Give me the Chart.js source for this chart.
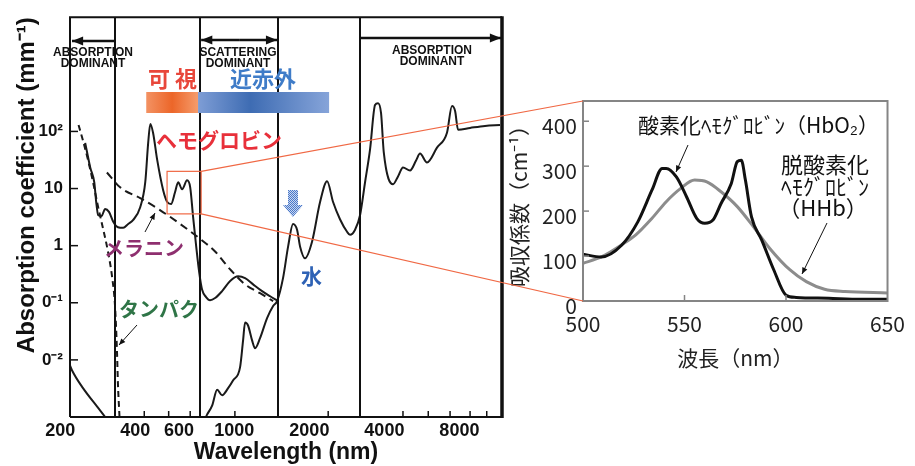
<!DOCTYPE html>
<html>
<head>
<meta charset="utf-8">
<script src="https://cdn.jsdelivr.net/npm/chart.js@4.4.1/dist/chart.umd.min.js"></script>
<style>
  html, body { margin: 0; padding: 0; background: #fff; }
  #wrap { position: relative; width: 915px; height: 466px; }
  #wrap canvas { position: absolute; left: 0; top: 0; }
</style>
</head>
<body>
<div id="wrap">
  <canvas id="spectrum" width="915" height="466"></canvas>
  <canvas id="inset" width="915" height="466"></canvas>
</div>
<script>
// left panel: absorption coefficient (mm^-1) vs wavelength (nm)
const waterUvNm = [219, 223, 247, 282, 303, 311];
const waterUvMu = [0.008, 0.0066, 0.0032, 0.0015, 0.001, 0.00085];

const waterNm = [765, 777, 815, 853, 893, 944, 989, 1054, 1084, 1104,
  1135, 1178, 1211, 1268, 1353, 1431, 1484, 1568, 1643, 1720,
  1785, 1836, 1922, 2050, 2208, 2356, 2490, 2654, 2833, 2912,
  3051, 3196, 3346, 3503, 3669, 3773, 3879, 3978, 4333, 4537,
  4751, 5070, 5361, 5560, 5931, 6504, 7133, 7471, 7689, 7901,
  8827, 10136, 11643];
const waterMu = [0.00095, 0.0011, 0.0016, 0.003, 0.0024, 0.0032, 0.0044, 0.0074, 0.022, 0.045,
  0.040, 0.022, 0.016, 0.024, 0.054, 0.088, 0.107, 0.27, 0.96, 2.4,
  1.9, 0.96, 0.6, 1.17, 5.8, 13.4, 5.8, 2.9, 1.75, 1.55,
  1.9, 3.45, 12.9, 48, 290, 313, 209, 43, 11.9, 16.3,
  23.4, 20.7, 31, 41, 28.6, 52, 95, 278, 228, 107,
  115, 125, 130];

const hbNm = [252, 264, 274, 279, 284, 293, 303, 314, 327, 341,
  358, 375, 392, 419, 439, 451, 460, 472, 490, 518,
  538, 557, 578, 595, 617, 646, 665, 683, 703, 722,
  742, 770, 799, 837, 893, 962, 1036, 1104, 1189, 1292,
  1392, 1485];
const hbMu = [63, 23.4, 12.9, 5.8, 3.45, 3.3, 4.4, 3.9, 2.6, 2.1,
  2.05, 2.4, 2.8, 4.7, 12.9, 63, 135, 94, 32, 9.35,
  5.8, 5.35, 8.6, 12.9, 9.7, 13.9, 10.5, 3.2, 0.96, 0.35,
  0.17, 0.126, 0.111, 0.121, 0.16, 0.24, 0.29, 0.27, 0.21, 0.16,
  0.13, 0.11];

const melaninNm = [308, 348, 419, 503, 606, 728, 837, 962, 1104, 1268, 1431];
const melaninMu = [19.1, 10.5, 6.8, 4.2, 2.4, 1.32, 0.79, 0.384, 0.21, 0.147, 0.107];

const proteinNm = [237, 247, 259, 271, 284, 298, 311, 324, 332, 338, 341, 345, 347];
const proteinMu = [130, 68.7, 30.9, 12.9, 4.74, 1.89, 0.79, 0.26, 0.088, 0.0146, 0.0039, 0.0013, 0.0008];

const xTicks = [200, 400, 600, 1000, 2000, 4000, 8000];
const xMinorTicks = [435, 545, 665, 1005, 2380, 4750, 6000, 7340, 8830, 10300];
const yTicks = [0.01, 0.1, 1, 10, 100];
const yTickLabels = ['0⁻²', '0⁻¹', '1', '10', '10²'];

const regionBounds = [332, 729, 1498, 3194];
const visibleBand = [443, 715];
const nirBand = [715, 2400];
const zoomNm = [537, 736];
const zoomMu = [3.6, 20];

// right panel: absorption (cm^-1) 500-650 nm
const hbo2Nm = [500, 509, 519, 527, 534, 539, 541, 546, 551, 556, 560, 564, 568, 573, 576, 578, 580, 583, 588, 594, 600, 605, 621, 637, 650];
const hbo2Abs = [104, 98, 124, 176, 247, 295, 295, 276, 232, 184, 173, 180, 217, 261, 310, 313, 269, 187, 136, 69, 13, 8, 6, 4, 4];
const hhbNm = [500, 509, 520, 526, 534, 541, 548, 555, 561, 568, 576, 584, 592, 602, 610, 619, 629, 650];
const hhbAbs = [84, 98, 128, 147, 184, 221, 250, 269, 265, 243, 210, 165, 117, 69, 43, 26, 21, 18];
const insetXTicks = [500, 550, 600, 650];
const insetYTicks = [0, 100, 200, 300, 400];

const pts = (xs, ys) => xs.map((x, i) => ({ x, y: ys[i] }));

const LATIN = "'Liberation Sans', Arial, sans-serif";
const JP = "'Noto Sans CJK JP', sans-serif";

function seg(ctx, x1, y1, x2, y2) {
  ctx.beginPath();
  ctx.moveTo(x1, y1);
  ctx.lineTo(x2, y2);
  ctx.stroke();
}

function arrow(ctx, x1, y1, x2, y2, head, spread) {
  seg(ctx, x1, y1, x2, y2);
  const ang = Math.atan2(y2 - y1, x2 - x1);
  ctx.beginPath();
  ctx.moveTo(x2, y2);
  ctx.lineTo(x2 - head * Math.cos(ang - spread), y2 - head * Math.sin(ang - spread));
  ctx.lineTo(x2 - head * Math.cos(ang + spread), y2 - head * Math.sin(ang + spread));
  ctx.closePath();
  ctx.fill();
}

function text(ctx, str, x, y, font, color, align) {
  ctx.font = font;
  ctx.fillStyle = color;
  ctx.textAlign = align || 'left';
  ctx.textBaseline = 'middle';
  ctx.fillText(str, x, y);
}

// dithered fill for the little blue marker arrow
function checker(ctx) {
  const c = document.createElement('canvas');
  c.width = 2; c.height = 2;
  const g = c.getContext('2d');
  g.fillStyle = '#c9d7f0'; g.fillRect(0, 0, 2, 2);
  g.fillStyle = '#4a78c9'; g.fillRect(0, 0, 1, 1); g.fillRect(1, 1, 1, 1);
  return ctx.createPattern(c, 'repeat');
}

const spectrumDecor = {
  id: 'spectrumDecor',
  afterDraw(chart) {
    const { ctx, chartArea: a, scales: { x, y } } = chart;
    ctx.save();
    ctx.strokeStyle = '#111';
    ctx.fillStyle = '#111';
    ctx.lineCap = 'butt';

    // frame + region boundaries
    ctx.lineWidth = 2;
    ctx.beginPath();
    ctx.moveTo(a.left, a.bottom);
    ctx.lineTo(a.left, a.top);
    ctx.lineTo(a.right, a.top);
    ctx.moveTo(a.left, a.bottom);
    ctx.lineTo(a.right, a.bottom);
    ctx.stroke();
    regionBounds.forEach(nm => {
      const px = Math.round(x.getPixelForValue(nm));
      seg(ctx, px, a.top, px, a.bottom);
    });
    ctx.lineWidth = 3.5;
    seg(ctx, a.right, a.top - 1, a.right, a.bottom + 1);

    // inward tick marks
    ctx.lineWidth = 1.5;
    yTicks.forEach(v => {
      const py = y.getPixelForValue(v);
      seg(ctx, a.left, py, a.left + 8, py);
    });
    xMinorTicks.forEach(v => {
      const px = x.getPixelForValue(v);
      seg(ctx, px, a.bottom, px, a.bottom - 6);
    });

    // dominance arrows
    ctx.lineWidth = 2.5;
    const r = regionBounds.map(v => x.getPixelForValue(v));
    arrow(ctx, r[0], 41, a.left + 2, 41, 12, 0.38);
    arrow(ctx, (r[1] + r[2]) / 2, 40, r[1] + 1, 40, 12, 0.38);
    arrow(ctx, (r[1] + r[2]) / 2, 40, r[2] - 1, 40, 12, 0.38);
    arrow(ctx, r[3], 38, a.right - 1, 38, 12, 0.38);
    const small = 'bold 12px ' + LATIN;
    text(ctx, 'ABSORPTION', 93, 53, small, '#111', 'center');
    text(ctx, 'DOMINANT', 93, 64, small, '#111', 'center');
    text(ctx, 'SCATTERING', 238, 53, small, '#111', 'center');
    text(ctx, 'DOMINANT', 238, 64, small, '#111', 'center');
    text(ctx, 'ABSORPTION', 432, 51, small, '#111', 'center');
    text(ctx, 'DOMINANT', 432, 62, small, '#111', 'center');

    // visible / near-infrared bars
    const v0 = x.getPixelForValue(visibleBand[0]), v1 = x.getPixelForValue(visibleBand[1]);
    const n0 = x.getPixelForValue(nirBand[0]), n1 = x.getPixelForValue(nirBand[1]);
    let g = ctx.createLinearGradient(v0, 0, v1, 0);
    g.addColorStop(0, '#f39263');
    g.addColorStop(0.5, '#ec6629');
    g.addColorStop(1, '#f59c6c');
    ctx.fillStyle = g;
    ctx.fillRect(v0, 92, v1 - v0, 21);
    g = ctx.createLinearGradient(n0, 0, n1, 0);
    g.addColorStop(0, '#7e9dd5');
    g.addColorStop(0.4, '#3e6cb3');
    g.addColorStop(1, '#86a4d9');
    ctx.fillStyle = g;
    ctx.fillRect(n0, 92, n1 - n0, 21);

    text(ctx, '可 視', 148, 79, 'bold 22px ' + JP, '#e8473b');
    text(ctx, '近赤外', 230, 79, 'bold 22px ' + JP, '#3f7cc8');
    text(ctx, 'ヘモグロビン', 156, 140, 'bold 21px ' + JP, '#e8303a');
    text(ctx, 'メラニン', 104, 248, 'bold 20px ' + JP, '#8e2f6f');
    text(ctx, 'タンパク', 119, 309, 'bold 20px ' + JP, '#2f7547');
    text(ctx, '水', 301, 276, 'bold 21px ' + JP, '#2e62b5');

    // pointer arrows
    ctx.strokeStyle = '#111';
    ctx.fillStyle = '#111';
    ctx.lineWidth = 1;
    arrow(ctx, 145, 232, 155, 213, 7, 0.4);
    arrow(ctx, 137, 325, 119, 345, 7, 0.4);

    // blue block arrow above the water peak
    ctx.fillStyle = checker(ctx);
    ctx.beginPath();
    ctx.moveTo(288, 190); ctx.lineTo(298, 190); ctx.lineTo(298, 205); ctx.lineTo(303, 205);
    ctx.lineTo(293, 217); ctx.lineTo(283, 205); ctx.lineTo(288, 205);
    ctx.closePath();
    ctx.fill();

    // zoom box
    ctx.strokeStyle = '#f06844';
    ctx.lineWidth = 1.2;
    const bx0 = x.getPixelForValue(zoomNm[0]), bx1 = x.getPixelForValue(zoomNm[1]);
    const by0 = y.getPixelForValue(zoomMu[1]), by1 = y.getPixelForValue(zoomMu[0]);
    ctx.strokeRect(bx0, by0, bx1 - bx0, by1 - by0);
    ctx.restore();
  }
};

const solid = { borderColor: '#1a1a1a', borderWidth: 2 };
const dashed = { borderColor: '#1a1a1a', borderWidth: 2, borderDash: [8, 5] };

const spectrumChart = new Chart(document.getElementById('spectrum'), {
  type: 'line',
  data: {
    datasets: [
      { label: '水 (UV)', data: pts(waterUvNm, waterUvMu), ...solid },
      { label: '水', data: pts(waterNm, waterMu), ...solid },
      { label: 'ヘモグロビン', data: pts(hbNm, hbMu), ...solid },
      { label: 'メラニン', data: pts(melaninNm, melaninMu), ...dashed },
      { label: 'タンパク', data: pts(proteinNm, proteinMu), ...dashed, borderDash: [6, 4] }
    ]
  },
  options: {
    responsive: false,
    animation: false,
    events: [],
    layout: { padding: { left: 0, top: 13, right: 413, bottom: 0 } },
    elements: {
      point: { radius: 0 },
      line: { cubicInterpolationMode: 'monotone', fill: false }
    },
    plugins: { legend: { display: false }, tooltip: { enabled: false } },
    scales: {
      x: {
        type: 'logarithmic',
        min: 219,
        max: 11860,
        afterFit: s => { s.height = 49; },
        afterBuildTicks: s => { s.ticks = xTicks.map(v => ({ value: v })); },
        grid: { display: false, drawTicks: false },
        border: { display: false },
        ticks: {
          autoSkip: false, maxRotation: 0, padding: 3, color: '#111',
          font: { family: LATIN, size: 18, weight: 'bold' },
          callback: v => String(v)
        },
        title: {
          display: true, text: 'Wavelength (nm)', color: '#111',
          font: { family: LATIN, size: 23, weight: 'bold' },
          padding: { top: 0, bottom: 0 }
        }
      },
      y: {
        type: 'logarithmic',
        min: 0.001,
        max: 10000,
        afterFit: s => { s.width = 70; },
        afterBuildTicks: s => { s.ticks = yTicks.map(v => ({ value: v })); },
        grid: { display: false, drawTicks: false },
        border: { display: false },
        ticks: {
          autoSkip: false, padding: 7, color: '#111',
          font: { family: LATIN, size: 17, weight: 'bold' },
          callback: (v, i) => yTickLabels[i]
        },
        title: {
          display: true, text: 'Absorption coefficient (mm⁻¹)', color: '#111', align: 'end',
          font: { family: LATIN, size: 24, weight: 'bold' },
          padding: { top: 13, bottom: 0 }
        }
      }
    }
  },
  plugins: [spectrumDecor]
});

const insetDecor = {
  id: 'insetDecor',
  afterDraw(chart) {
    const { ctx, chartArea: a, scales: { x, y } } = chart;
    ctx.save();
    ctx.strokeStyle = '#858585';
    ctx.lineWidth = 2;
    ctx.strokeRect(a.left, a.top, a.right - a.left, a.bottom - a.top);
    ctx.lineWidth = 1.5;
    insetYTicks.slice(1).forEach(v => {
      const py = y.getPixelForValue(v);
      seg(ctx, a.left, py, a.left + 6, py);
    });
    insetXTicks.slice(1, -1).forEach(v => {
      const px = x.getPixelForValue(v);
      seg(ctx, px, a.bottom, px, a.bottom - 6);
    });

    // connectors from the zoom box on the left panel
    const sx = spectrumChart.scales.x, sy = spectrumChart.scales.y;
    const bx = sx.getPixelForValue(zoomNm[1]);
    ctx.strokeStyle = '#f06844';
    ctx.lineWidth = 1.2;
    seg(ctx, bx, sy.getPixelForValue(zoomMu[1]), a.left, a.top);
    seg(ctx, bx, sy.getPixelForValue(zoomMu[0]), a.left, a.bottom);

    text(ctx, '酸素化ﾍﾓｸﾞﾛﾋﾞﾝ（HbO₂）', 638, 125, '21px ' + JP, '#111');
    text(ctx, '脱酸素化', 825, 165, '22px ' + JP, '#111', 'center');
    text(ctx, 'ﾍﾓｸﾞﾛﾋﾞﾝ', 825, 187, '22px ' + JP, '#111', 'center');
    text(ctx, '（HHb）', 823, 208, '22px ' + JP, '#111', 'center');
    ctx.strokeStyle = '#111';
    ctx.fillStyle = '#111';
    ctx.lineWidth = 1;
    arrow(ctx, 688, 145, 676, 172, 7, 0.4);
    arrow(ctx, 827, 223, 802, 274, 7, 0.4);
    ctx.restore();
  }
};

new Chart(document.getElementById('inset'), {
  type: 'line',
  data: {
    datasets: [
      { label: '酸素化ヘモグロビン (HbO2)', data: pts(hbo2Nm, hbo2Abs), borderColor: '#111', borderWidth: 3 },
      { label: '脱酸素化ヘモグロビン (HHb)', data: pts(hhbNm, hhbAbs), borderColor: '#8c8c8c', borderWidth: 3 }
    ]
  },
  options: {
    responsive: false,
    animation: false,
    events: [],
    layout: { padding: { left: 503, top: 101, right: 17, bottom: 95 } },
    elements: {
      point: { radius: 0 },
      line: { cubicInterpolationMode: 'monotone', fill: false }
    },
    plugins: { legend: { display: false }, tooltip: { enabled: false } },
    scales: {
      x: {
        type: 'linear',
        min: 500,
        max: 650,
        afterFit: s => { s.height = 70; },
        afterBuildTicks: s => { s.ticks = insetXTicks.map(v => ({ value: v })); },
        grid: { display: false, drawTicks: false },
        border: { display: false },
        ticks: { autoSkip: false, maxRotation: 0, padding: 10, color: '#222', font: { family: JP, size: 21 } },
        title: { display: true, text: '波長（nm）', color: '#222', font: { family: JP, size: 21 }, padding: 0 }
      },
      y: {
        type: 'linear',
        min: 0,
        max: 445,
        afterFit: s => { s.width = 80; },
        afterBuildTicks: s => { s.ticks = insetYTicks.map(v => ({ value: v })); },
        grid: { display: false, drawTicks: false },
        border: { display: false },
        ticks: { autoSkip: false, padding: 6, labelOffset: 5, color: '#222', font: { family: JP, size: 21 } },
        title: { display: true, text: '吸収係数（cm⁻¹）', color: '#222', font: { family: JP, size: 21 }, padding: { top: 3, bottom: 0 } }
      }
    }
  },
  plugins: [insetDecor]
});
</script>
</body>
</html>
